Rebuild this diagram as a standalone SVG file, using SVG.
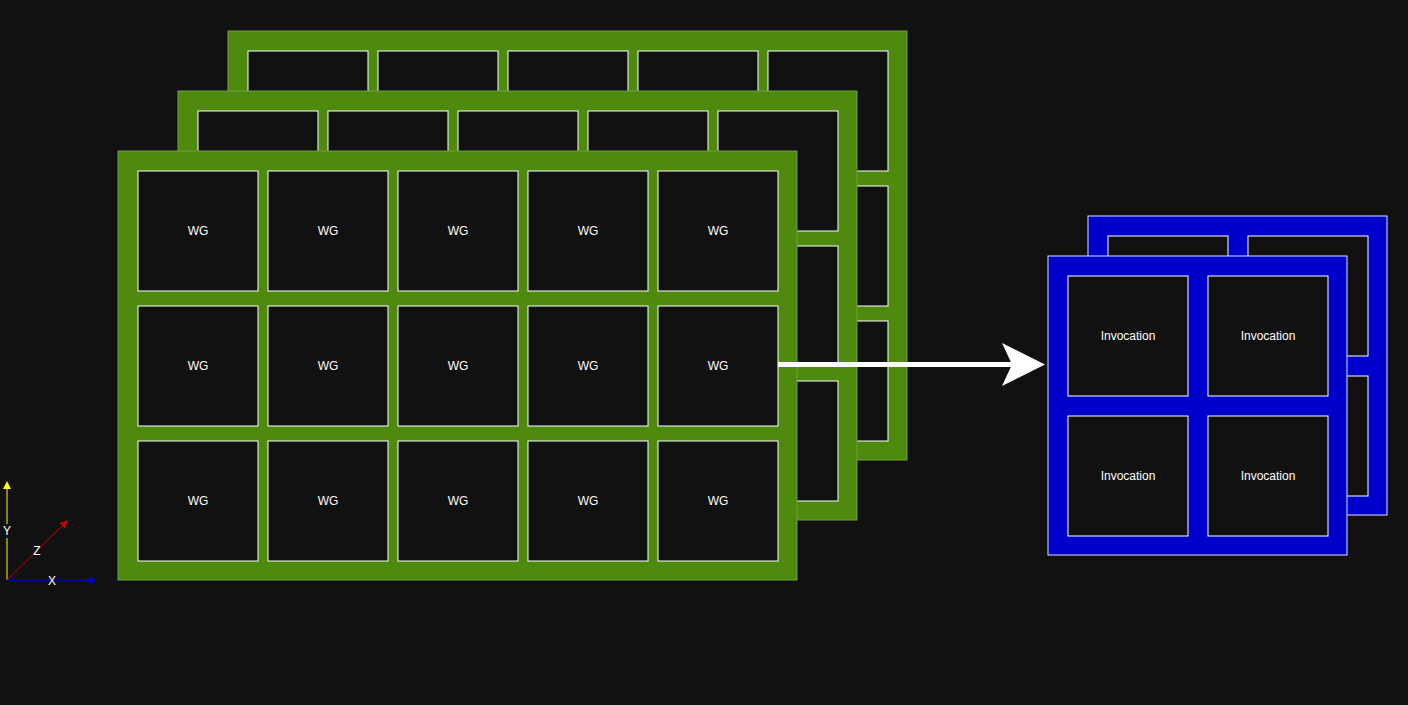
<svg xmlns="http://www.w3.org/2000/svg" width="1408" height="705" viewBox="0 0 1408 705">
<style>
.g{fill:#4D8A0E;stroke:#6FA040;stroke-width:1}
.b{fill:#0000CC;stroke:#E0E0FF;stroke-width:1}
.c{fill:#111111;stroke:#FFFFFF;stroke-width:1}
text{font-family:"Liberation Sans",Arial,sans-serif;font-size:12px;fill:#FFFFFF;text-anchor:middle;dominant-baseline:central}
</style>
<defs>
<marker id="ay" markerWidth="8" markerHeight="8" refX="4" refY="4" orient="auto" markerUnits="userSpaceOnUse"><path d="M0,0L8,4L0,8z" fill="#FFFF00"/></marker>
<marker id="ax" markerWidth="8" markerHeight="8" refX="4" refY="4" orient="auto" markerUnits="userSpaceOnUse"><path d="M0,0L8,4L0,8z" fill="#0000CC"/></marker>
<marker id="az" markerWidth="8" markerHeight="8" refX="4" refY="4" orient="auto" markerUnits="userSpaceOnUse"><path d="M0,0L8,4L0,8z" fill="#CC0000"/></marker>
</defs>
<rect width="1408" height="705" fill="#111111"/>
<g id="wg-back">
<rect class="g" x="228" y="31" width="679" height="429"/>
<rect class="c" x="248" y="51" width="120" height="120"/><rect class="c" x="378" y="51" width="120" height="120"/><rect class="c" x="508" y="51" width="120" height="120"/><rect class="c" x="638" y="51" width="120" height="120"/><rect class="c" x="768" y="51" width="120" height="120"/>
<rect class="c" x="768" y="186" width="120" height="120"/><rect class="c" x="768" y="321" width="120" height="120"/>
</g>
<g id="wg-mid">
<rect class="g" x="178" y="91" width="679" height="429"/>
<rect class="c" x="198" y="111" width="120" height="120"/><rect class="c" x="328" y="111" width="120" height="120"/><rect class="c" x="458" y="111" width="120" height="120"/><rect class="c" x="588" y="111" width="120" height="120"/><rect class="c" x="718" y="111" width="120" height="120"/>
<rect class="c" x="718" y="246" width="120" height="120"/><rect class="c" x="718" y="381" width="120" height="120"/>
</g>
<g id="wg-front">
<rect class="g" x="118" y="151" width="679" height="429"/>
<rect class="c" x="138" y="171" width="120" height="120"/><text x="198" y="231">WG</text>
<rect class="c" x="268" y="171" width="120" height="120"/><text x="328" y="231">WG</text>
<rect class="c" x="398" y="171" width="120" height="120"/><text x="458" y="231">WG</text>
<rect class="c" x="528" y="171" width="120" height="120"/><text x="588" y="231">WG</text>
<rect class="c" x="658" y="171" width="120" height="120"/><text x="718" y="231">WG</text>
<rect class="c" x="138" y="306" width="120" height="120"/><text x="198" y="366">WG</text>
<rect class="c" x="268" y="306" width="120" height="120"/><text x="328" y="366">WG</text>
<rect class="c" x="398" y="306" width="120" height="120"/><text x="458" y="366">WG</text>
<rect class="c" x="528" y="306" width="120" height="120"/><text x="588" y="366">WG</text>
<rect class="c" x="658" y="306" width="120" height="120"/><text x="718" y="366">WG</text>
<rect class="c" x="138" y="441" width="120" height="120"/><text x="198" y="501">WG</text>
<rect class="c" x="268" y="441" width="120" height="120"/><text x="328" y="501">WG</text>
<rect class="c" x="398" y="441" width="120" height="120"/><text x="458" y="501">WG</text>
<rect class="c" x="528" y="441" width="120" height="120"/><text x="588" y="501">WG</text>
<rect class="c" x="658" y="441" width="120" height="120"/><text x="718" y="501">WG</text>
</g>
<g id="inv-back">
<rect class="b" x="1088" y="216" width="299" height="299"/>
<rect class="c" x="1108" y="236" width="120" height="120"/><rect class="c" x="1248" y="236" width="120" height="120"/>
<rect class="c" x="1108" y="376" width="120" height="120"/><rect class="c" x="1248" y="376" width="120" height="120"/>
</g>
<g id="inv-front">
<rect class="b" x="1048" y="256" width="299" height="299"/>
<rect class="c" x="1068" y="276" width="120" height="120"/><text x="1128" y="336">Invocation</text>
<rect class="c" x="1208" y="276" width="120" height="120"/><text x="1268" y="336">Invocation</text>
<rect class="c" x="1068" y="416" width="120" height="120"/><text x="1128" y="476">Invocation</text>
<rect class="c" x="1208" y="416" width="120" height="120"/><text x="1268" y="476">Invocation</text>
</g>
<g id="connectors">
<path d="M778,364.5H1020" stroke="#FFFFFF" stroke-width="5" fill="none"/>
<path d="M1045,364.5L1002,343L1012,364.5L1002,386z" fill="#FFFFFF"/>
<line x1="7" y1="580" x2="7" y2="485" stroke="#FFFF00" stroke-width="1" marker-end="url(#ay)"/>
<line x1="7" y1="580" x2="93" y2="580" stroke="#0000CC" stroke-width="1.5" marker-end="url(#ax)"/>
<line x1="7" y1="580" x2="65" y2="523" stroke="#CC0000" stroke-width="1" marker-end="url(#az)"/>
</g>
<g id="axis-labels">
<rect x="2" y="524" width="10" height="14" fill="#111111"/>
<text x="7" y="531">Y</text>
<text x="37" y="551">Z</text>
<text x="52" y="581">X</text>
</g>
</svg>
